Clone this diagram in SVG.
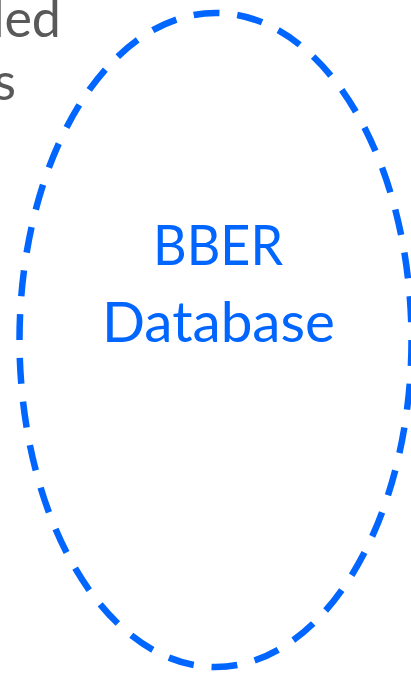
<svg xmlns="http://www.w3.org/2000/svg" width="411" height="674" viewBox="0 0 411 674">
  <style>
    .db { fill: none; stroke: #0066ff; stroke-width: 6.5; stroke-dasharray: 26 17.9; }
    .lbl { font-family: Lato, "Open Sans", "Liberation Sans", sans-serif; font-size: 56px; fill: #0066ff; text-anchor: middle; }
    .side { font-family: Lato, "Open Sans", "Liberation Sans", sans-serif; font-size: 52px; fill: #595959; text-anchor: end; }
  </style>
  <g id="side-text">
    <text class="side" x="61" y="37">led</text>
    <text class="side" x="16" y="100">s</text>
  </g>
  <g id="bber-database">
    <ellipse class="db" cx="215.5" cy="340" rx="196" ry="327"/>
    <text class="lbl" x="218" y="265" textLength="130" lengthAdjust="spacingAndGlyphs">BBER</text>
    <text class="lbl" x="218.5" y="342" textLength="233" lengthAdjust="spacingAndGlyphs">Database</text>
  </g>
</svg>
